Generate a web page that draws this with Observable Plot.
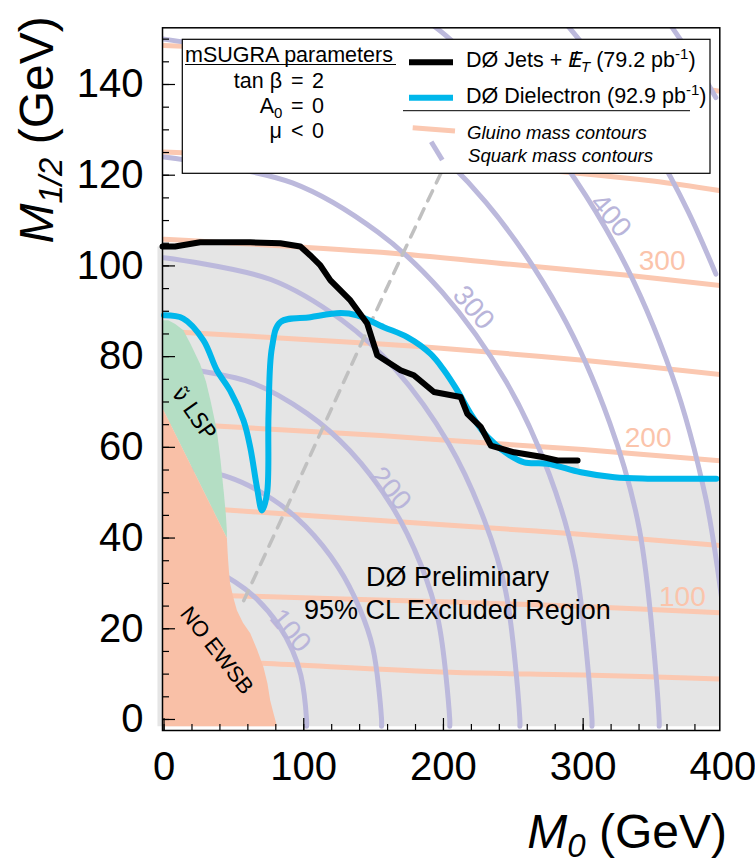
<!DOCTYPE html>
<html><head><meta charset="utf-8">
<script src="https://cdn.jsdelivr.net/npm/d3@7"></script>
<script src="https://cdn.jsdelivr.net/npm/@observablehq/plot@0.6"></script>
<style>body{margin:0;background:#fff;}</style>
</head><body><div id="chart"></div>
<script>
// ---- data ----
const jetsMet = [[-1.1,104.3],[7.9,104.3],[25.8,105.2],[61.7,105.2],[83.2,105],[97.6,104.3],[104.7,102.3],[111.9,100.1],[119.1,96.8],[133.4,92.4],[145.4,87.3],[152.6,80.3],[169.3,77],[178.8,75.9],[193.2,72.2],[212.3,71.1],[217.1,67.4],[226.7,64.5],[233.9,60.4],[250.6,58.9],[272.1,57.8],[281.7,57.1],[296,57.1]];
const dielectron = [[0,89.1],[13.8,88.4],[28.2,83.6],[37.8,77],[47.3,72.5],[56.9,65.9],[61.7,60],[66.5,51.2],[70.1,46.1],[73.7,49.8],[74.8,67.4],[77.3,82.1],[83.2,87.6],[104.7,88.7],[126.3,89.6],[138.2,89.1],[157.3,86.5],[174.1,84.3],[190.8,80.6],[200.4,77],[210,72.5],[219.5,67.4],[231.5,62.3],[245.8,58.6],[257.8,56.7],[274.5,56.4],[298.4,54.5],[322.3,53.4],[346.3,53.1],[395.3,53.1]];
const excludedRegion = [[-4.7,-1.5],[-4.7,104.3],[7.9,104.3],[25.8,105.2],[61.7,105.2],[83.2,105],[97.6,104.3],[104.7,102.3],[111.9,100.1],[119.1,96.8],[133.4,92.4],[146,88],[157.3,86.5],[174.1,84.3],[190.8,80.6],[200.4,77],[210,72.5],[219.5,67.4],[231.5,62.3],[245.8,58.6],[257.8,57.2],[274.5,57.5],[296,57.1],[298.4,54.5],[322.3,53.4],[346.3,53.1],[397.8,53.1],[397.8,-1.5]];
const noEwsbRegion = [[-1.1,-1.5],[-1.1,68.6],[45,40],[45.5,37],[45.9,35],[46.5,32.5],[47.3,30],[49.5,27],[52.2,24],[56.5,21.3],[61.7,19],[66.5,15.5],[71.2,11.5],[74,8],[76,4.2],[78.5,1.2],[80.8,-1.5]];
const sneutrinoLspRegion = [[-1.1,68.6],[-1.1,88],[3,88],[8,87.2],[13.8,85.8],[19,82.8],[25.8,78.4],[30,74.5],[33.5,70],[37.8,63.7],[40.5,57],[42.8,50],[44.3,45],[45,41.5],[45,40]];
const tanBetaLine = [[57,26.2],[83,43.5],[120,68.6],[162,96.8],[198,120.3],[215,131]];

const gluino50  = [[0,13.3],[70,12.4],[205,10.4],[300,9.8],[400,8.9]];
const gluino100 = [[0,27.8],[47.6,27.3],[205,25.9],[300,24.9],[400,23.5]];
const gluino150 = [[0,47.2],[45.2,46.2],[205,42.8],[300,40.8],[400,38.3]];
const gluino200 = [[0,65.4],[30.9,64.8],[155,62.6],[205,61.5],[300,59.5],[400,57]];
const gluino250 = [[0,85.7],[11.8,85.4],[155,82.8],[205,81.7],[300,79.2],[400,76]];
const gluino300 = [[0,105.9],[155,103],[250,100.3],[330,98],[400,95.6]];
const gluino350 = [[0,125.1],[150,123.2],[250,121.6],[298,120.4],[350,118.7],[400,116.5]];
const gluino400 = [[0,148.6],[150,146.5],[250,144],[330,141.3],[400,138.4]];

const squark100 = [[0,35],[30.6,33.4],[51,30.3],[66.3,26.6],[81.6,21],[91.8,15.3],[97.9,9.8],[102,0],[102,-1.5]];
const squark150 = [[0,56],[46.7,53.4],[77.9,48.5],[101.2,42.6],[124.6,33.6],[140.1,24.4],[149.5,15.7],[155.7,0],[155.7,-1.5]];
const squark200 = [[0,78],[61.4,74.4],[102.3,67.5],[132.9,59.3],[163.6,46.8],[184,34],[196.3,21.8],[204.5,0],[204.5,-1.5]];
const squark250 = [[0,101.8],[76.4,97],[127.4,88],[165.6,77.2],[203.8,60.8],[229.2,44],[244.5,28.3],[254.7,0],[254.7,-1.5]];
const squark300 = [[0,124],[91.9,118.3],[153.2,107.4],[199.1,94.2],[245,74.4],[275.7,54.1],[294,34.7],[306.3,0],[306.3,-1.5]];
const squark350 = [[0,150],[106.3,143.1],[177.2,129.9],[230.4,114],[283.5,90],[319,65.4],[340.2,42],[354.4,0],[354.4,-1.5]];
const squark400 = [[180,155.8],[202,150.7],[262.6,132.2],[323.2,104.4],[363.6,75.9],[387.8,48.7],[400,24.5]];
const squark450 = [[250,165.5],[289.6,152.7],[320,140.8],[350,126.5],[375,112.1],[395,98.2]];
const squark500 = [[340,162.6],[365,152],[380,145],[395,137.1]];

const squarkLabels = [{m0:90.5,m12:19.6,t:"100"},{m0:162.1,m12:50.9,t:"200"},{m0:221.5,m12:90.8,t:"300"},{m0:319.6,m12:111.1,t:"400"}];
const gluinoLabels = [{m0:371,m12:26.9,t:"100"},{m0:346.5,m12:62,t:"200"},{m0:356.5,m12:101,t:"300"}];

const xMajorTicks = [0,100,200,300];
const xTickLabels = [0,100,200,300,400];
const yTickLabels = [0,20,40,60,80,100,120,140];

// ---- colours ----
const cGray="#e5e5e5", cSalmon="#f9c0a7", cGreen="#b4dec4", cGluino="#fbc8b1", cSquark="#bcb9dc", cBlue="#00b7eb";

const pt = {x:d=>d[0], y:d=>d[1]};
const gl = arr => Plot.line(arr, {...pt, stroke:cGluino, strokeWidth:5, curve:"catmull-rom", clip:true});
const sq = arr => Plot.line(arr, {...pt, stroke:cSquark, strokeWidth:5, curve:"catmull-rom", clip:true});

const font = "Liberation Sans, Arial, Helvetica, sans-serif";
const plot = Plot.plot({
  width:755, height:860,
  marginLeft:162, marginRight:35.7, marginTop:27.3, marginBottom:130,
  x:{domain:[-1.1,397.8], label:null},
  y:{domain:[-2.43,152.5], label:null},
  style:{fontFamily:font, background:"white", color:"black"},
  marks:[
    Plot.line(excludedRegion, {...pt, fill:cGray, stroke:"none"}),
    gl(gluino50), gl(gluino100), gl(gluino150), gl(gluino200), gl(gluino250), gl(gluino300), gl(gluino350), gl(gluino400),
    sq(squark100), sq(squark150), sq(squark200), sq(squark250), sq(squark300), sq(squark350), sq(squark400), sq(squark450), sq(squark500),
    Plot.line(tanBetaLine, {...pt, stroke:"#c0c0c0", strokeWidth:3.5, strokeDasharray:"11,9", curve:"catmull-rom"}),
    Plot.line(sneutrinoLspRegion, {...pt, fill:cGreen, stroke:"none"}),
    Plot.line(noEwsbRegion, {...pt, fill:cSalmon, stroke:"none"}),
    Plot.text(squarkLabels, {x:"m0", y:"m12", text:"t", rotate:50, fill:"#b9b5da", fontSize:28}),
    Plot.text(gluinoLabels, {x:"m0", y:"m12", text:"t", fill:"#fbc4ab", fontSize:28}),
    Plot.line(dielectron, {...pt, stroke:cBlue, strokeWidth:6, curve:"catmull-rom", strokeLinejoin:"round"}),
    Plot.line(jetsMet, {...pt, stroke:"black", strokeWidth:6, strokeLinejoin:"round"}),
    Plot.text(["DØ Preliminary"], {x:210, y:29.5, text:d=>d, fontSize:27, lineAnchor:"bottom"}),
    Plot.text(["95% CL Excluded Region"], {x:210, y:22.2, text:d=>d, fontSize:27, lineAnchor:"bottom"}),
    Plot.text(["ν̃ LSP"], {x:21.1, y:67.5, text:d=>d, fontSize:22, rotate:55, fontFamily:"DejaVu Sans"}),
    Plot.text(["NO EWSB"], {x:37.7, y:15.2, text:d=>d, fontSize:22, rotate:52}),
    Plot.frame({stroke:"black", strokeWidth:1.5}),
    Plot.axisY({ticks:d3.range(0,155,5), tickSize:-7, text:null, strokeWidth:1.2}),
    Plot.axisY({ticks:yTickLabels, tickSize:-13, text:null, strokeWidth:1.2}),
    Plot.axisY({ticks:yTickLabels, tickSize:0, tickPadding:19, fontSize:40}),
    Plot.axisX({ticks:d3.range(0,400,20), tickSize:-6, text:null, strokeWidth:1.2}),
    Plot.axisX({ticks:xMajorTicks, tickSize:-12, text:null, strokeWidth:1.2}),
    Plot.axisX({ticks:xTickLabels, tickSize:0, tickPadding:21, fontSize:40})
  ]
});
document.getElementById("chart").appendChild(plot);

// ---- legend and rich-text titles ----
const svg = d3.select(plot);
const g = svg.append("g").attr("font-family", font).attr("text-anchor","start").attr("fill","black");
g.append("rect").attr("x",182.3).attr("y",39.3).attr("width",527.7).attr("height",134).attr("fill","white").attr("stroke","black").attr("stroke-width",1.2);
g.append("text").attr("x",185).attr("y",61.7).attr("font-size",21.5).text("mSUGRA parameters");
g.append("line").attr("x1",185).attr("x2",396).attr("y1",64.5).attr("y2",64.5).attr("stroke","black").attr("stroke-width",1.2);
const params = [["tan β","=","2",88.3],["A","=","0",113.3],["μ","<","0",138.3]];
params.forEach(([a,op,v,yy],i)=>{
  const t = g.append("text").attr("x",i===1?274:282).attr("y",yy).attr("font-size",21.5).attr("text-anchor","end");
  t.append("tspan").text(a);
  g.append("text").attr("x",291).attr("y",yy).attr("font-size",21.5).text(op);
  g.append("text").attr("x",312).attr("y",yy).attr("font-size",21.5).text(v);
});
g.append("text").attr("x",274).attr("y",118.3).attr("font-size",15).text("0");
g.append("line").attr("x1",409).attr("x2",453).attr("y1",62.3).attr("y2",62.3).attr("stroke","black").attr("stroke-width",6);
const t1 = g.append("text").attr("x",466).attr("y",67).attr("font-size",21.5);
t1.append("tspan").text("DØ Jets + ");
t1.append("tspan").attr("font-style","italic").text("E");
t1.append("tspan").attr("dx",-10.5).text("/");
t1.append("tspan").attr("font-style","italic").attr("font-size",15).attr("dy",5).attr("dx",3).text("T");
t1.append("tspan").attr("dy",-5).text(" (79.2 pb");
t1.append("tspan").attr("font-size",15).attr("dy",-8).text("-1");
t1.append("tspan").attr("dy",8).text(")");
g.append("line").attr("x1",409).attr("x2",453).attr("y1",97.7).attr("y2",97.7).attr("stroke",cBlue).attr("stroke-width",6);
const t2 = g.append("text").attr("x",466).attr("y",103).attr("font-size",21.5);
t2.append("tspan").text("DØ Dielectron (92.9 pb");
t2.append("tspan").attr("font-size",15).attr("dy",-8).text("-1");
t2.append("tspan").attr("dy",8).text(")");
g.append("line").attr("x1",403).attr("x2",690).attr("y1",110.7).attr("y2",110.7).attr("stroke","black").attr("stroke-width",1);
g.append("line").attr("x1",412.7).attr("x2",455).attr("y1",127.7).attr("y2",131).attr("stroke",cGluino).attr("stroke-width",5);
g.append("text").attr("x",467).attr("y",139.3).attr("font-size",18.6).attr("font-style","italic").text("Gluino mass contours");
g.append("line").attr("x1",431.2).attr("x2",442.3).attr("y1",141.7).attr("y2",160).attr("stroke",cSquark).attr("stroke-width",5);
g.append("text").attr("x",468).attr("y",161.7).attr("font-size",18.6).attr("font-style","italic").text("Squark mass contours");

// axis titles
const xt = svg.append("text").attr("x",727).attr("y",848.3).attr("text-anchor","end").attr("font-size",48).attr("font-family",font).attr("fill","black");
xt.append("tspan").attr("font-style","italic").text("M");
xt.append("tspan").attr("font-style","italic").attr("font-size",33).attr("dy",9).text("0");
xt.append("tspan").attr("dy",-9).text(" (GeV)");
const yt = svg.append("text").attr("transform","translate(53,16.3) rotate(-90)").attr("text-anchor","end").attr("font-size",48).attr("font-family",font).attr("fill","black");
yt.append("tspan").attr("font-style","italic").text("M");
yt.append("tspan").attr("font-style","italic").attr("font-size",33).attr("dy",9).text("1/2");
yt.append("tspan").attr("dy",-9).text(" (GeV)");
</script></body></html>
